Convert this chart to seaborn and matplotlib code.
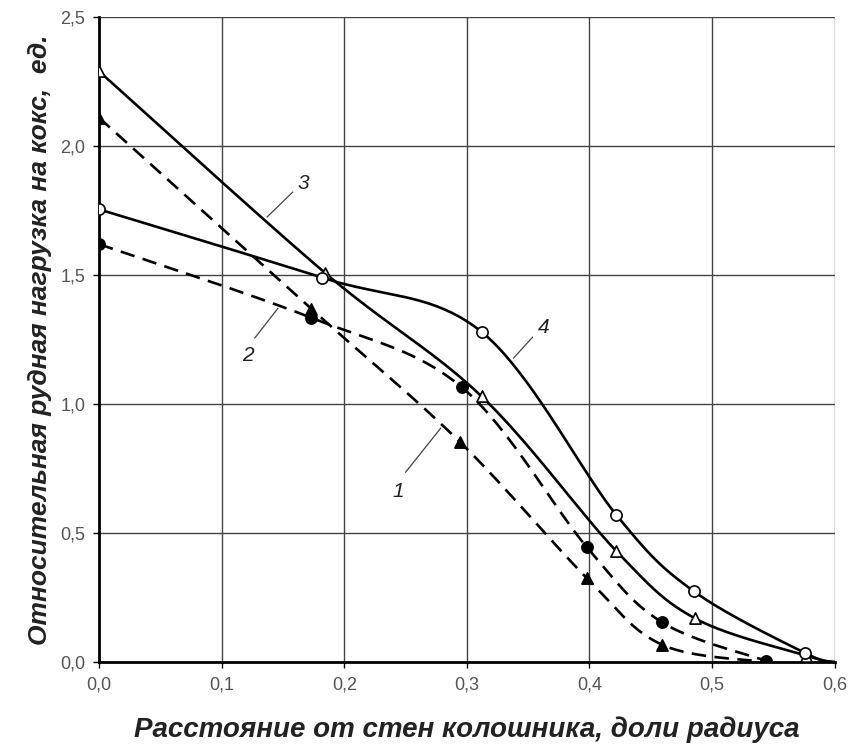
import numpy as np
import pandas as pd
import seaborn as sns
import matplotlib.pyplot as plt

# Distance from the throat wall (fraction of radius) and relative ore load
x1 = [0.0, 0.173, 0.294, 0.398, 0.459, 0.545]
y1 = [2.11, 1.37, 0.855, 0.325, 0.068, 0.0]
x2 = [0.0, 0.173, 0.296, 0.398, 0.459, 0.544]
y2 = [1.62, 1.335, 1.065, 0.445, 0.155, 0.005]
x3 = [0.0, 0.184, 0.312, 0.422, 0.486, 0.577, 0.6]
y3 = [2.29, 1.51, 1.03, 0.43, 0.17, 0.025, 0.0]
x4 = [0.0, 0.182, 0.312, 0.422, 0.485, 0.576, 0.6]
y4 = [1.755, 1.49, 1.28, 0.57, 0.275, 0.035, 0.0]
# last point of curves 3 and 4 has no marker
n_markers = [6, 6, 6, 6]
labels = ['1', '2', '3', '4']
# label text position, leader line start / end
label_pos = [(0.2437, 0.66), (0.1214, 1.19), (0.1663, 1.857), (0.3627, 1.298)]
leader_from = [(0.250, 0.736), (0.127, 1.256), (0.158, 1.822), (0.3537, 1.26)]
leader_to = [(0.2787, 0.907), (0.146, 1.372), (0.137, 1.725), (0.338, 1.178)]


def smooth(xs, ys, n=40):
    # Catmull-Rom curve through the points, like a smoothed spreadsheet line
    p = np.column_stack([xs, ys])
    p = np.vstack([p[0], p, p[-1]])
    out = []
    t = np.linspace(0, 1, n)
    for i in range(1, len(p) - 2):
        p0, p1, p2, p3 = p[i - 1], p[i], p[i + 1], p[i + 2]
        seg = 0.5 * ((2 * p1)[None, :] + np.outer(t, -p0 + p2)
                     + np.outer(t ** 2, 2 * p0 - 5 * p1 + 4 * p2 - p3)
                     + np.outer(t ** 3, -p0 + 3 * p1 - 3 * p2 + p3))
        out.append(seg)
    out = np.vstack(out)
    return out[:, 0], out[:, 1]


sns.set_theme(style="white")
plt.rcParams['font.family'] = ['Liberation Sans', 'DejaVu Sans']

fig = plt.figure(figsize=(8.5, 7.44), dpi=100)
ax = fig.add_axes([0.1165, 0.110, 0.8655, 0.867])

series = [(x1, y1, '^', 'black', '--'),
          (x2, y2, 'o', 'black', '--'),
          (x3, y3, '^', 'white', '-'),
          (x4, y4, 'o', 'white', '-')]

for (xs, ys, mk, fc, ls), nm in zip(series, n_markers):
    sx, sy = smooth(xs, ys)
    line = pd.DataFrame({'x': sx, 'y': sy})
    sns.lineplot(data=line, x='x', y='y', sort=False, ax=ax, color='black',
                 linewidth=1.9, linestyle=ls, zorder=3)
    if ls == '--':
        ax.lines[-1].set_dashes((5.5, 3.2))
    pts = pd.DataFrame({'x': xs[:nm], 'y': ys[:nm]})
    sns.scatterplot(data=pts, x='x', y='y', ax=ax, marker=mk, s=65,
                    facecolor=fc, edgecolor='black', linewidth=1.2, zorder=4)

# curve labels with leader lines
for txt, pos, a, b in zip(labels, label_pos, leader_from, leader_to):
    ax.plot([a[0], b[0]], [a[1], b[1]], color='#444444', lw=0.9, zorder=2)
    ax.text(pos[0], pos[1], txt, fontsize=15, style='italic',
            color='#222222', ha='center', va='center')

ax.set_xlim(0, 0.6)
ax.set_ylim(0, 2.5)
xt = [0.0, 0.1, 0.2, 0.3, 0.4, 0.5, 0.6]
yt = [0.0, 0.5, 1.0, 1.5, 2.0, 2.5]
ax.set_xticks(xt)
ax.set_yticks(yt)
ax.set_xticklabels([f"{v:.1f}".replace('.', ',') for v in xt])
ax.set_yticklabels([f"{v:.1f}".replace('.', ',') for v in yt])
ax.tick_params(axis='both', labelsize=13, labelcolor='#555555',
               direction='out', length=4, color='black', width=1, pad=6,
               bottom=True, left=True)
ax.grid(True, color='#444444', linewidth=1)
ax.set_axisbelow(True)
for side in ['top', 'right']:
    ax.spines[side].set_visible(False)
for side in ['left', 'bottom']:
    ax.spines[side].set_color('black')
    ax.spines[side].set_linewidth(2)

ax.set_xlabel('Расстояние от стен колошника, доли радиуса', fontsize=20,
              fontweight='bold', style='italic', color='#222222', labelpad=17)
ax.set_ylabel('Относительная рудная нагрузка на кокс,  ед.', fontsize=19,
              fontweight='bold', style='italic', color='#222222', labelpad=6)

fig.savefig('out.png', dpi=100)
